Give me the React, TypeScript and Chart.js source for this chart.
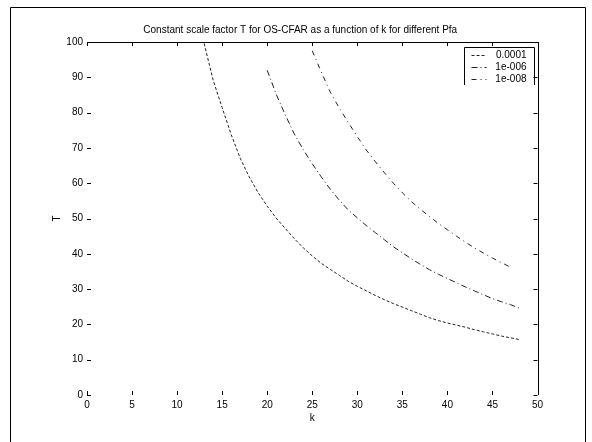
import React, { useEffect, useRef } from "react";
import { Chart, registerables } from "chart.js";

Chart.register(...registerables);

const TITLE = "Constant scale factor T for OS-CFAR as a function of k for different Pfa";
const X_LABEL = "k";
const Y_LABEL = "T";
const SERIES_LABELS = ["0.0001", "1e-006", "1e-008"];

const X_TICKS = [0, 5, 10, 15, 20, 25, 30, 35, 40, 45, 50];
const Y_TICKS = [0, 10, 20, 30, 40, 50, 60, 70, 80, 90, 100];

// Pfa = 1e-4
const K1 = [13, 14, 15, 16, 17, 18, 19, 20, 21, 22, 23, 24, 25, 26, 27, 28, 29, 30, 31, 32, 33, 34, 35, 36, 37, 38, 39, 40, 41, 42, 43, 44, 45, 46, 47, 48];
const T1 = [99.6, 89.2, 81.4, 73.8, 67.1, 61.8, 57.3, 53.5, 50.1, 47.2, 44.3, 41.7, 39.4, 37.3, 35.6, 33.9, 32.2, 30.8, 29.5, 28.2, 27.0, 25.9, 24.9, 23.9, 22.9, 21.9, 21.1, 20.4, 19.8, 19.2, 18.5, 17.9, 17.3, 16.7, 16.2, 15.7];

// Pfa = 1e-6
const K2 = [20, 21, 22, 23, 24, 25, 26, 27, 28, 29, 30, 31, 32, 33, 34, 35, 36, 37, 38, 39, 40, 41, 42, 43, 44, 45, 46, 47, 48];
const T2 = [92.0, 85.2, 79.4, 74.0, 69.5, 65.5, 61.8, 58.3, 55.2, 52.4, 50.2, 48.0, 46.0, 44.0, 42.0, 40.3, 38.6, 37.0, 35.5, 34.2, 33.0, 31.8, 30.6, 29.5, 28.4, 27.3, 26.4, 25.6, 24.6];

// Pfa = 1e-8
const K3 = [25, 26, 27, 28, 29, 30, 31, 32, 33, 34, 35, 36, 37, 38, 39, 40, 41, 42, 43, 44, 45, 46, 47];
const T3 = [97.5, 91.5, 85.8, 81.3, 77.2, 73.2, 69.4, 66.1, 63.0, 60.0, 57.3, 54.8, 52.6, 50.6, 48.6, 46.8, 45.0, 43.3, 41.7, 40.2, 38.8, 37.5, 36.2];

const SERIES_K = [K1, K2, K3];
const SERIES_T = [T1, T2, T3];
const SERIES_DASH = [[3, 2], [6, 3, 1, 3], [5, 4, 1, 4]];

const FONT = '"Liberation Sans", Arial, Helvetica, sans-serif';

const decorPlugin = {
  id: "decor",
  afterDraw(chart: any) {
    const ctx = chart.ctx as CanvasRenderingContext2D;
    const a = chart.chartArea;
    const xs = chart.scales.x;
    const ys = chart.scales.y;
    ctx.save();
    ctx.strokeStyle = "#000";
    ctx.lineWidth = 1;

    // figure frame
    ctx.beginPath();
    ctx.moveTo(10.5, 442);
    ctx.lineTo(10.5, 7.5);
    ctx.lineTo(585.5, 7.5);
    ctx.lineTo(585.5, 442);
    ctx.stroke();

    // axes box: top and right lines
    const top = Math.round(a.top) + 0.5;
    const right = Math.round(a.right) + 0.5;
    ctx.beginPath();
    ctx.moveTo(a.left, top);
    ctx.lineTo(right, top);
    ctx.lineTo(right, a.bottom);
    ctx.stroke();

    // inward ticks
    ctx.beginPath();
    X_TICKS.forEach((v) => {
      const px = Math.round(xs.getPixelForValue(v)) + 0.5;
      ctx.moveTo(px, a.top);
      ctx.lineTo(px, a.top + 4);
      ctx.moveTo(px, a.bottom);
      ctx.lineTo(px, a.bottom - 4);
    });
    Y_TICKS.forEach((v) => {
      const py = Math.round(ys.getPixelForValue(v)) + 0.5;
      ctx.moveTo(a.right, py);
      ctx.lineTo(a.right - 4, py);
      ctx.moveTo(a.left, py);
      ctx.lineTo(a.left + 4, py);
    });
    ctx.stroke();

    // title and axis labels
    ctx.fillStyle = "#000";
    ctx.font = `10px ${FONT}`;
    ctx.textAlign = "center";
    ctx.textBaseline = "middle";
    ctx.fillText(TITLE, (a.left + a.right) / 2 - 12, a.top - 12);
    ctx.fillText(X_LABEL, (a.left + a.right) / 2, a.bottom + 23);
    ctx.save();
    ctx.translate(a.left - 30, (a.top + a.bottom) / 2);
    ctx.rotate(-Math.PI / 2);
    ctx.fillText(Y_LABEL, 0, 0);
    ctx.restore();

    // legend box (top-right inside axes)
    const bl = Math.round(a.right - 74) + 0.5;
    const br = Math.round(a.right - 4) + 0.5;
    const bt = Math.round(a.top + 5) + 0.5;
    const bb = a.top + 43;
    ctx.beginPath();
    ctx.moveTo(bl, bb);
    ctx.lineTo(bl, bt);
    ctx.lineTo(br, bt);
    ctx.lineTo(br, bb);
    ctx.stroke();
    ctx.textAlign = "right";
    SERIES_LABELS.forEach((lab, i) => {
      const y = a.top + 13 + i * 12;
      ctx.save();
      ctx.strokeStyle = "#222";
      ctx.setLineDash(SERIES_DASH[i]);
      ctx.beginPath();
      ctx.moveTo(bl + 7, Math.round(y) + 0.5);
      ctx.lineTo(bl + 22, Math.round(y) + 0.5);
      ctx.stroke();
      ctx.restore();
      ctx.fillText(lab, br - 8, y);
    });
    ctx.restore();
  },
};

export default function App() {
  const canvasRef = useRef<HTMLCanvasElement | null>(null);

  useEffect(() => {
    document.body.style.margin = "0";
    document.body.style.overflow = "hidden";
    const canvas = canvasRef.current;
    if (!canvas) return;

    const datasets = SERIES_LABELS.map((label, i) => ({
      label,
      data: SERIES_K[i].map((k, j) => ({ x: k, y: SERIES_T[i][j] })),
      borderColor: "#222",
      borderWidth: 1,
      borderDash: SERIES_DASH[i],
      pointRadius: 0,
      fill: false,
      tension: 0,
    }));

    const tickFont = { size: 10, family: FONT };

    const chart = new Chart(canvas, {
      type: "line",
      data: { datasets },
      plugins: [decorPlugin],
      options: {
        animation: false,
        responsive: false,
        maintainAspectRatio: false,
        layout: { padding: { left: 0, right: 54.5, top: 42, bottom: 0 } },
        plugins: {
          legend: { display: false },
          title: { display: false },
          tooltip: { enabled: false },
        },
        scales: {
          x: {
            type: "linear",
            min: 0,
            max: 50,
            grid: { display: false, drawTicks: false },
            border: { display: false },
            afterBuildTicks: (s: any) => {
              s.ticks = X_TICKS.map((v) => ({ value: v }));
            },
            afterFit: (s: any) => {
              s.height = 47;
            },
            ticks: {
              font: tickFont,
              color: "#000",
              padding: 4,
              maxRotation: 0,
              autoSkip: false,
            },
          },
          y: {
            type: "linear",
            min: 0,
            max: 100,
            grid: { display: false, drawTicks: false },
            border: { display: false },
            afterBuildTicks: (s: any) => {
              s.ticks = Y_TICKS.map((v) => ({ value: v }));
            },
            afterFit: (s: any) => {
              s.width = 87;
            },
            ticks: {
              font: tickFont,
              color: "#000",
              padding: 4,
              autoSkip: false,
            },
          },
        },
      },
    } as any);

    return () => chart.destroy();
  }, []);

  return (
    <div style={{ width: 592, height: 442, background: "#fff" }}>
      <canvas ref={canvasRef} width={592} height={442} style={{ display: "block" }} />
    </div>
  );
}
